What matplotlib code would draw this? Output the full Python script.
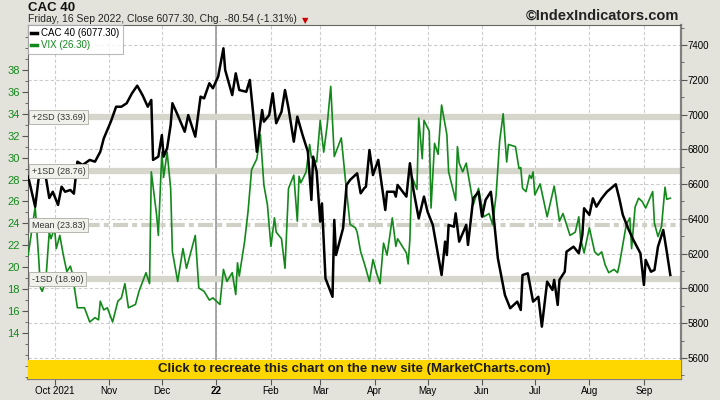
import numpy as np
import pandas as pd
import matplotlib
matplotlib.use('Agg')
import matplotlib.pyplot as plt
import matplotlib.transforms as mtransforms
from matplotlib.lines import Line2D
from matplotlib.patches import Rectangle

plt.rcParams['font.family'] = ['Liberation Sans', 'DejaVu Sans']

# days counted from 1 Oct 2021
cac_days = [-15, -11, -9, -7, -5, -3, -1, 2, 4, 6, 9, 11, 13, 16, 20, 23, 26, 28, 32, 35,
            38, 41, 44, 47, 50, 53, 55, 56, 59, 61, 62, 64, 66, 67, 70, 74, 76, 80, 83, 85,
            88, 90, 93, 96, 97, 101, 103, 105, 109, 111, 113, 115, 118, 119, 122, 124, 126, 129, 131, 133,
            136, 138, 141, 144, 146, 147, 149, 151, 152, 154, 158, 159, 160, 164, 166, 168, 172, 174, 176, 177,
            179, 181, 184, 188, 189, 193, 194, 195, 200, 202, 204, 207, 210, 212, 215, 220, 222, 223, 224, 227,
            228, 230, 234, 235, 238, 241, 243, 245, 248, 249, 252, 256, 259, 263, 265, 266, 269, 272, 275, 277,
            280, 283, 284, 286, 287, 290, 291, 295, 298, 300, 301, 304, 306, 308, 311, 314, 319, 321, 323, 326,
            329, 333, 335, 336, 339, 341, 343, 346, 348, 350]
cac_close = [6643, 6470, 6635, 6671, 6643, 6520, 6556, 6480, 6585, 6556, 6566, 6545, 6729, 6710, 6739, 6729, 6786, 6863, 6959, 7045,
             7045, 7065, 7122, 7166, 7112, 7045, 7084, 6739, 6758, 6882, 6758, 6806, 6940, 7065, 6997, 6901, 6997, 6873, 7103, 7093,
             7180, 7151, 7218, 7381, 7256, 7112, 7237, 7141, 7131, 7199, 6997, 6786, 7026, 6959, 6997, 7122, 6950, 7016, 7141, 7036,
             6844, 6988, 6882, 6786, 6509, 6758, 6671, 6384, 6489, 6058, 5952, 6394, 6192, 6346, 6595, 6624, 6662, 6547, 6576, 6585,
             6796, 6652, 6739, 6451, 6556, 6556, 6528, 6595, 6528, 6720, 6566, 6403, 6528, 6442, 6365, 6077, 6269, 6192, 6365, 6355,
             6432, 6269, 6365, 6250, 6518, 6556, 6413, 6509, 6556, 6470, 6173, 5962, 5886, 5924, 5876, 6077, 6087, 5924, 5952, 5780,
             6039, 5991, 6049, 5905, 6049, 6096, 6211, 6240, 6202, 6307, 6461, 6423, 6518, 6470, 6518, 6556, 6599, 6518, 6423, 6346,
             6279, 6202, 6020, 6164, 6096, 6106, 6240, 6336, 6211, 6077.30]

vix_days = [-15, -11, -9, -8, -7, -5, -3, -2, 0, 1, 3, 5, 7, 9, 10, 13, 17, 20, 23, 25,
            26, 28, 30, 33, 36, 38, 40, 42, 46, 48, 52, 54, 55, 58, 59, 61, 62, 64, 66, 67,
            70, 73, 75, 78, 80, 82, 85, 88, 90, 94, 96, 98, 101, 103, 104, 105, 108, 110, 112, 115,
            117, 119, 121, 123, 125, 126, 129, 131, 133, 136, 138, 139, 140, 143, 145, 146, 149, 151, 153, 155,
            157, 159, 163, 166, 168, 171, 172, 174, 176, 179, 181, 183, 185, 187, 189, 192, 194, 195, 200, 201,
            202, 203, 206, 207, 209, 210, 213, 214, 216, 218, 220, 223, 224, 228, 229, 230, 232, 234, 237, 238,
            241, 244, 247, 249, 251, 253, 255, 257, 258, 262, 264, 265, 266, 268, 270, 271, 272, 273, 276, 280,
            284, 285, 287, 289, 293, 296, 298, 299, 301, 304, 307, 309, 311, 313, 315, 318, 320, 321, 325, 327,
            328, 330, 332, 334, 336, 340, 341, 343, 345, 347, 348, 350]
vix_close = [21.1, 25.5, 20.8, 18.1, 17.8, 18.7, 23.2, 22.6, 23.6, 21.7, 22.9, 21.1, 19.6, 20.1, 19.5, 16.3, 16.3, 15.0, 15.4, 15.2,
             16.9, 16.1, 16.3, 15.0, 16.9, 17.2, 18.5, 16.3, 16.6, 17.8, 19.5, 18.5, 28.7, 24.8, 22.9, 30.5, 28.2, 30.5, 27.2, 21.4,
             18.7, 21.7, 19.9, 21.7, 22.9, 18.1, 17.8, 17.0, 17.2, 16.6, 19.8, 18.7, 19.5, 17.5, 20.4, 19.2, 22.3, 25.1, 28.9, 29.9,
             32.1, 27.5, 25.7, 21.9, 24.5, 23.2, 22.6, 19.9, 27.2, 28.4, 24.2, 28.3, 27.7, 28.7, 31.2, 30.0, 29.6, 33.4, 30.5, 33.0,
             36.5, 30.1, 31.8, 26.9, 23.9, 23.6, 23.2, 21.4, 20.4, 18.7, 20.7, 19.5, 18.5, 22.2, 21.1, 24.5, 21.9, 22.6, 21.3, 20.3,
             22.6, 28.3, 27.1, 33.6, 29.9, 33.4, 32.4, 25.4, 31.3, 30.3, 34.8, 32.1, 28.7, 26.1, 31.0, 29.5, 28.7, 29.5, 26.7, 25.7,
             27.2, 24.6, 24.9, 23.9, 26.6, 31.5, 34.0, 29.6, 31.2, 31.0, 29.0, 29.1, 27.2, 26.9, 28.4, 28.1, 28.7, 26.6, 27.6, 24.6,
             27.4, 26.4, 24.2, 24.9, 22.9, 23.2, 24.6, 22.6, 21.3, 23.6, 21.4, 21.1, 21.4, 20.2, 19.5, 19.8, 19.5, 20.2, 23.9, 24.5,
             21.7, 25.5, 26.3, 26.0, 25.4, 26.9, 24.0, 22.8, 23.7, 27.3, 26.2, 26.30]

sd_levels = [33.69, 28.76, 18.90]
sd_names = ['+2SD (33.69)', '+1SD (28.76)', '-1SD (18.90)']
vix_mean = 23.83

month_starts = ['2021-10-01', '2021-11-01', '2021-12-01', '2022-01-01', '2022-02-01', '2022-03-01',
                '2022-04-01', '2022-05-01', '2022-06-01', '2022-07-01', '2022-08-01', '2022-09-01']
month_labels = ['Oct 2021', 'Nov', 'Dec', '22', 'Feb', 'Mar', 'Apr', 'May', 'Jun', 'Jul', 'Aug', 'Sep']

base = pd.Timestamp('2021-10-01')
cac_dates = base + pd.to_timedelta(cac_days, unit='D')
vix_dates = base + pd.to_timedelta(vix_days, unit='D')
months = pd.to_datetime(month_starts)
x_lo, x_hi = pd.Timestamp('2021-09-15 22:00'), pd.Timestamp('2022-09-22 02:00')

green = '#13891b'
fig = plt.figure(figsize=(7.2, 4), dpi=100, facecolor='#e3e3dc')
rect = [28/720, 21/400, 653/720, 354/400]

# background axes: white panel with the dashed grid
bg = fig.add_axes(rect)
bg.set_facecolor('white')
bg.set_xlim(x_lo, x_hi)
bg.set_ylim(5479, 7515)
bg.set_xticks(months)
bg.set_yticks(np.arange(5600, 7401, 200))
bg.grid(True, ls=(0, (3, 2)), color='#cccccc', lw=0.8)
bg.axvline(pd.Timestamp('2022-01-01'), color='#9a9a9a', lw=1.2)
bg.tick_params(left=False, labelleft=False, bottom=False, labelbottom=False)
for s in bg.spines.values():
    s.set_visible(False)

# VIX on the left scale
ax = fig.add_axes(rect)
ax.patch.set_visible(False)
ax.set_xlim(x_lo, x_hi)
ax.set_ylim(9.8, 42.1)
for lv in sd_levels:
    ax.axhline(lv, color='#d6d6cc', lw=4.5, zorder=1)
ax.axhline(vix_mean, color='#d0d0c6', lw=3, dashes=(3.6, 1.0, 1.2, 1.0), zorder=1)
ax.plot(vix_dates, vix_close, color=green, lw=1.2, zorder=3)
ax.set_yticks(np.arange(14, 39, 2))
ax.set_yticks(np.arange(10, 42, 1), minor=True)
ax.tick_params(axis='y', which='major', direction='out', length=4, pad=2, labelsize=8,
               labelcolor=green, color='#555555')
ax.tick_params(axis='y', which='minor', direction='out', length=2, color='#555555')
ax.set_xticks(months)
ax.set_xticklabels(month_labels)
ax.tick_params(axis='x', direction='out', length=4, pad=1, labelsize=7, color='#555555')
ax.get_xticklabels()[3].set_fontweight('bold')
for s in ['left', 'top']:
    ax.spines[s].set_color('#666666')
for s in ['right', 'bottom']:
    ax.spines[s].set_color('#808080')
    ax.spines[s].set_linewidth(1.6)

# CAC 40 on the right scale
ax2 = ax.twinx()
ax2.set_ylim(5479, 7515)
ax2.plot(cac_dates, cac_close, color='black', lw=1.8, zorder=4)
ax2.set_yticks(np.arange(5600, 7401, 200))
ax2.set_yticks(np.arange(5500, 7501, 100), minor=True)
ax2.tick_params(axis='y', which='major', direction='out', length=4, pad=1, labelsize=7, color='#555555')
ax2.tick_params(axis='y', which='minor', direction='out', length=2, color='#555555')
for s in ax2.spines.values():
    s.set_visible(False)

# SD labels sit above both lines, placed on the VIX scale
blend = mtransforms.blended_transform_factory(ax2.transAxes, ax.transData)
for lv, nm in zip(sd_levels + [vix_mean], sd_names + ['Mean (23.83)']):
    ax2.text(0.006, lv, nm, transform=blend, ha='left', va='center', fontsize=6.5, color='#333333', zorder=6,
             bbox=dict(boxstyle='square,pad=0.28', fc='#f1f1ec', ec='#b5b5ad', lw=0.7))

# yellow banner across the bottom of the panel
ax2.add_patch(Rectangle((0, 0), 1, 0.055, transform=ax2.transAxes, fc='#ffd700', ec='none', zorder=20))
ax2.text(0.5, 0.0275, 'Click to recreate this chart on the new site (MarketCharts.com)', transform=ax2.transAxes,
         ha='center', va='center', fontsize=9.5, fontweight='bold', color='#1a1a1a', zorder=21)

handles = [Line2D([], [], color='black', lw=2.5), Line2D([], [], color=green, lw=2.5)]
leg = ax2.legend(handles, ['CAC 40 (6077.30)', 'VIX (26.30)'], loc='upper left', bbox_to_anchor=(0, 1),
                 borderaxespad=0, fancybox=False, edgecolor='#aaaaaa', fontsize=7, handlelength=0.6,
                 handletextpad=0.4, borderpad=0.35, labelspacing=0.2)
leg.get_frame().set_linewidth(0.8)
leg.get_texts()[1].set_color(green)
leg.set_zorder(22)

fig.text(28/720, 1 - 8/400, 'CAC 40', ha='left', va='center', fontsize=9.5, fontweight='bold', color='#111111')
sub = fig.text(28/720, 1 - 19.5/400, 'Friday, 16 Sep 2022, Close 6077.30, Chg. -80.54 (-1.31%)',
               ha='left', va='center', fontsize=7.5, color='#222222')
fig.text(679/720, 1 - 16/400, '\u00a9IndexIndicators.com', ha='right', va='center', fontsize=10.5,
         fontweight='bold', color='#222222')
fig.canvas.draw()
bb = sub.get_window_extent()
fig.text((bb.x1 + 5) / 720, (bb.y0 + bb.y1) / 2 / 400 - 0.003, '\u25bc', ha='left', va='center',
         fontsize=6, color='#cc0000', family=['DejaVu Sans'])

fig.savefig('out.png', dpi=100, facecolor=fig.get_facecolor())
